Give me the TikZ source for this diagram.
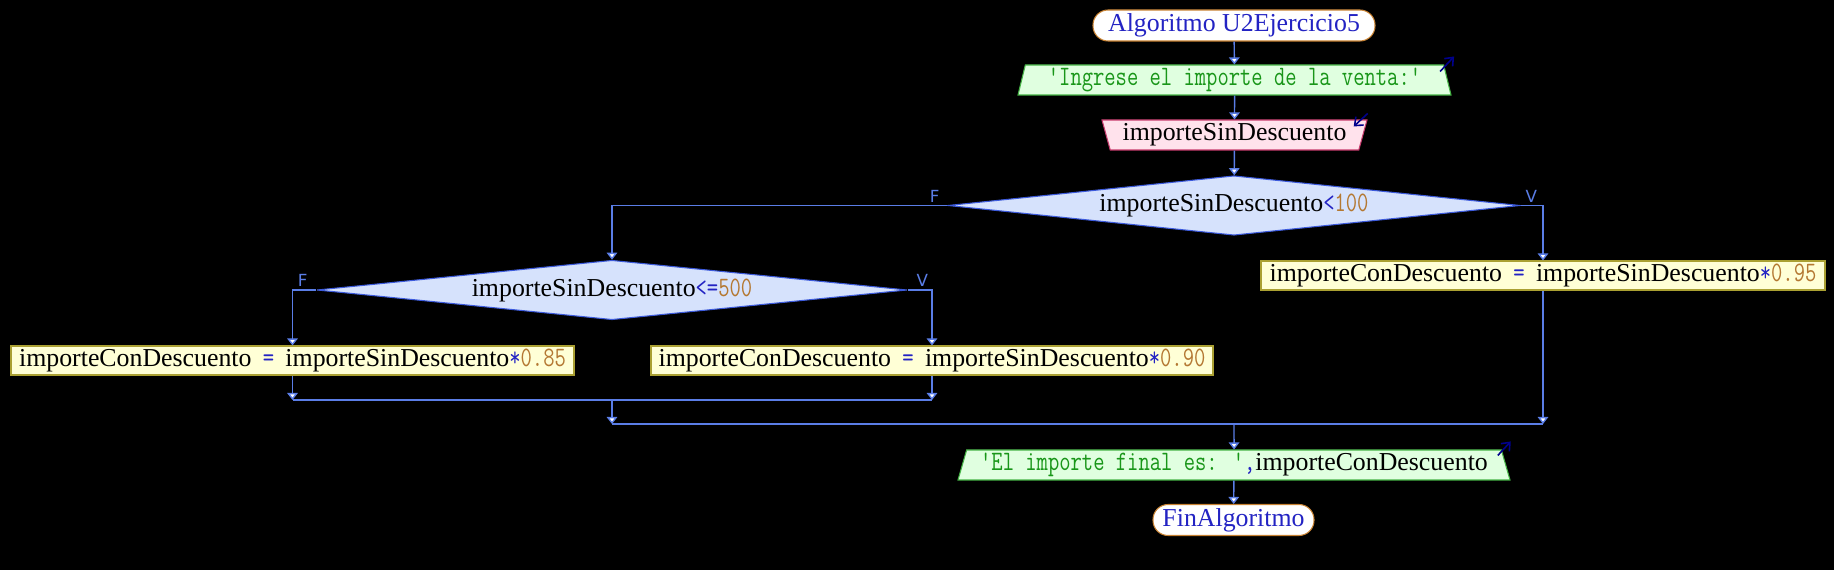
\documentclass[tikz,border=0pt]{standalone}
\usepackage{fontspec}
\setmainfont{Liberation Serif}
\newfontfamily\codefont[FakeStretch=0.78,Scale=1.09]{Latin Modern Mono}
\newfontfamily\lblfont{DejaVu Sans}
\usetikzlibrary{shapes.geometric,arrows.meta,positioning}

\definecolor{flowline}{RGB}{90,125,230}
\definecolor{kwblue}{RGB}{35,35,195}
\definecolor{numbrown}{RGB}{180,120,50}
\definecolor{strgreen}{RGB}{25,150,25}
\definecolor{termedge}{RGB}{200,130,50}
\definecolor{infill}{RGB}{224,255,224}
\definecolor{inedge}{RGB}{70,180,70}
\definecolor{rdfill}{RGB}{255,226,236}
\definecolor{rdedge}{RGB}{200,60,110}
\definecolor{condfill}{RGB}{214,226,252}
\definecolor{condedge}{RGB}{60,90,220}
\definecolor{procfill}{RGB}{255,255,214}
\definecolor{procedge}{RGB}{170,160,50}
\definecolor{ionavy}{RGB}{0,0,140}

\newcommand{\opr}[1]{{\color{kwblue}\codefont #1}}
\newcommand{\numlit}[1]{{\color{numbrown}\codefont #1}}
\newcommand{\strlit}[1]{{\color{strgreen}\codefont #1}}

\begin{document}
\begin{tikzpicture}[font=\fontsize{14.7pt}{16pt}\selectfont,
  flow/.style={draw=flowline, line width=0.8pt, -{Triangle[width=6pt,length=4pt,fill=white]}},
  mergeline/.style={draw=flowline, line width=0.8pt},
  term/.style={draw=termedge, fill=white, line width=0.6pt, rounded corners=0.3cm, minimum height=0.62cm, inner sep=0pt, text=kwblue},
  inshape/.style={trapezium, trapezium stretches body, draw=inedge, fill=infill, line width=0.6pt, minimum height=0.6cm, inner sep=0pt},
  rdshape/.style={trapezium, trapezium stretches body, trapezium left angle=110, trapezium right angle=110, draw=rdedge, fill=rdfill, line width=0.6pt, minimum height=0.6cm, inner sep=0pt},
  cond/.style={diamond, draw=condedge, fill=condfill, line width=0.6pt, shape aspect=9.7, inner sep=0pt, minimum height=1.19cm},
  proc/.style={draw=procedge, fill=procfill, line width=0.6pt, minimum height=0.58cm, inner sep=0pt},
  branch/.style={text=flowline, font=\lblfont\fontsize{9.5pt}{10pt}\selectfont, inner sep=1pt},
  ioarrow/.style={draw=ionavy, line width=0.9pt, -{Straight Barb[length=4pt,width=6.5pt]}}]
  \fill[black] (0,0) rectangle (36.68,11.4);

  % main column
  \node[term, minimum width=5.64cm] (start) at (24.68,10.89) {Algoritmo U2Ejercicio5};
  \node[inshape, trapezium left angle=73, trapezium right angle=73, minimum width=8.66cm] (in) at (24.69,9.8)
    {\strlit{'Ingrese el importe de la venta:'}};
  \node[rdshape, minimum width=5.3cm] (rd) at (24.69,8.7) {importeSinDescuento};
  \node[cond, minimum width=11.44cm] (c1) at (24.68,7.29) {importeSinDescuento\opr{<}\numlit{100}};

  % nested decision
  \node[cond, minimum width=11.8cm] (c2) at (12.24,5.6) {importeSinDescuento\opr{<=}\numlit{500}};
  \node[proc, minimum width=11.26cm] (b85) at (5.85,4.19) {importeConDescuento\opr{ = }importeSinDescuento\opr{*}\numlit{0.85}};
  \node[proc, minimum width=11.24cm] (b90) at (18.64,4.19) {importeConDescuento\opr{ = }importeSinDescuento\opr{*}\numlit{0.90}};
  \node[proc, minimum width=11.28cm] (b95) at (30.86,5.89) {importeConDescuento\opr{ = }importeSinDescuento\opr{*}\numlit{0.95}};

  \node[inshape, trapezium left angle=70, trapezium right angle=70, minimum width=11.04cm] (out) at (24.68,2.1)
    {\strlit{'El importe final es: '}\opr{,}importeConDescuento};
  \node[term, minimum width=3.22cm] (fin) at (24.67,1.0) {FinAlgoritmo};

  % branch labels
  \node[branch, above left=0.02cm and 0.12cm of c1.west] (f1) {F};
  \node[branch, above right=0.02cm and 0.06cm of c1.east] (v1) {V};
  \node[branch, above left=0.02cm and 0.14cm of c2.west] (f2) {F};
  \node[branch, above right=0.02cm and 0.14cm of c2.east] (v2) {V};

  \coordinate (m1) at (0,3.4);
  \coordinate (m2) at (0,2.92);

  \draw[flow] (start) -- (in);
  \draw[flow] (in) -- (rd);
  \draw[flow] (rd) -- (c1);
  \draw[flow] (c1.west) -| (c2.north);
  \draw[flow] (c1.east) -| (b95.north);
  \draw[flow] (c2.west) -| (b85.north);
  \draw[flow] (c2.east) -| (b90.north);
  \draw[flow] (b85) -- (b85 |- m1);
  \draw[flow] (b90) -- (b90 |- m1);
  \draw[mergeline] (b85 |- m1) -- (b90 |- m1);
  \draw[flow] (c2 |- m1) -- (c2 |- m2);
  \draw[flow] (b95) -- (b95 |- m2);
  \draw[mergeline] (c2 |- m2) -- (b95 |- m2);
  \draw[flow] (start |- m2) -- (out);
  \draw[flow] (out) -- (fin);

  % read / write marks
  \draw[ioarrow] ([shift={(-0.08,-0.14)}]in.top right corner) -- ++(0.28,0.3);
  \draw[ioarrow] ([shift={(0,0.12)}]rd.top right corner) -- ++(-0.28,-0.26);
  \draw[ioarrow] ([shift={(-0.08,-0.12)}]out.top right corner) -- ++(0.26,0.28);
\end{tikzpicture}
\end{document}
